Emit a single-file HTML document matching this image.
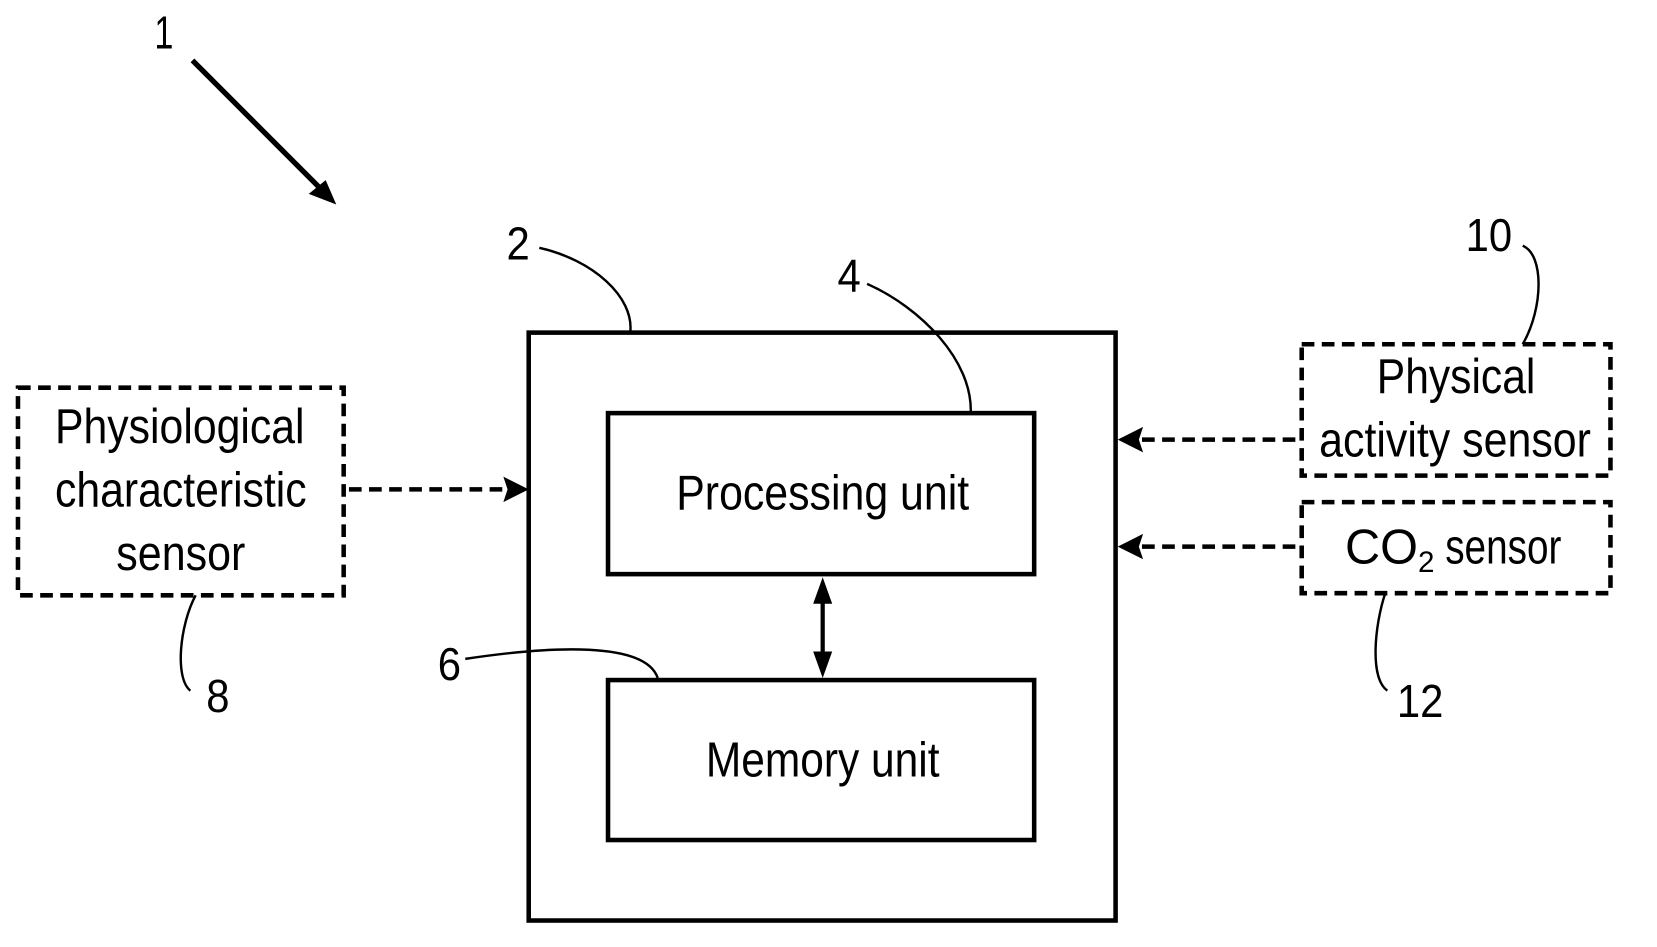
<!DOCTYPE html>
<html><head><meta charset="utf-8"><style>
html,body{margin:0;padding:0;background:#fff;}
svg{display:block;}
text{font-family:"Liberation Sans",sans-serif;fill:#000;}
</style></head><body>
<svg width="1657" height="947" viewBox="0 0 1567 894" preserveAspectRatio="none" xmlns="http://www.w3.org/2000/svg">
<g font-size="44" text-anchor="middle">
<text x="155" y="46" textLength="18" lengthAdjust="spacingAndGlyphs">1</text>
<text x="490" y="245" textLength="22" lengthAdjust="spacingAndGlyphs">2</text>
<text x="803" y="275" textLength="22" lengthAdjust="spacingAndGlyphs">4</text>
<text x="425" y="642" textLength="22" lengthAdjust="spacingAndGlyphs">6</text>
<text x="206" y="672" textLength="22" lengthAdjust="spacingAndGlyphs">8</text>
<text x="1408" y="237" textLength="44" lengthAdjust="spacingAndGlyphs">10</text>
<text x="1343" y="677" textLength="44" lengthAdjust="spacingAndGlyphs">12</text>
</g>
<g fill="none" stroke="#000" stroke-width="2.3">
<path d="M510,234 C560,245 600,280 596,314"/>
<path d="M820,268 C870,290 920,340 918,390"/>
<path d="M440,622 C520,610 610,605 622,640"/>
<path d="M185,562 C170,590 165,640 180,652"/>
<path d="M1440,232 C1460,240 1460,290 1440,325"/>
<path d="M1310,560 C1300,590 1295,640 1312,652"/>
</g>
<line x1="182" y1="57" x2="305" y2="180" stroke="#000" stroke-width="5"/>
<polygon points="318,193 292,183 308,170" fill="#000"/>
<g fill="none" stroke="#000" stroke-width="4.3">
<rect x="500" y="314" width="555" height="555"/>
<rect x="575" y="390" width="403" height="152"/>
<rect x="575" y="642" width="403" height="151"/>
</g>
<line x1="778" y1="560" x2="778" y2="625" stroke="#000" stroke-width="4"/>
<polygon points="778,545 769,570 787,570" fill="#000"/>
<polygon points="778,640 769,615 787,615" fill="#000"/>
<g fill="none" stroke="#000" stroke-width="4.3" stroke-dasharray="12,7">
<rect x="17" y="366" width="308" height="196"/>
<rect x="1231" y="325" width="292" height="124"/>
<rect x="1231" y="474" width="292" height="86"/>
<line x1="330" y1="462" x2="480" y2="462"/>
<line x1="1225" y1="415" x2="1078" y2="415"/>
<line x1="1225" y1="516" x2="1078" y2="516"/>
</g>
<polygon points="500,462 476,450 480,462 476,474" fill="#000"/>
<polygon points="1057,415 1081,403 1077,415 1081,427" fill="#000"/>
<polygon points="1057,516 1081,504 1077,516 1081,528" fill="#000"/>
<g font-size="46" text-anchor="middle">
<text x="778" y="481" textLength="277" lengthAdjust="spacingAndGlyphs">Processing unit</text>
<text x="778" y="733" textLength="221" lengthAdjust="spacingAndGlyphs">Memory unit</text>
<text x="170" y="418" textLength="236" lengthAdjust="spacingAndGlyphs">Physiological</text>
<text x="171" y="478" textLength="238" lengthAdjust="spacingAndGlyphs">characteristic</text>
<text x="171" y="538" textLength="122" lengthAdjust="spacingAndGlyphs">sensor</text>
<text x="1377" y="371" textLength="150" lengthAdjust="spacingAndGlyphs">Physical</text>
<text x="1376" y="431" textLength="257" lengthAdjust="spacingAndGlyphs">activity sensor</text>
<text x="1272" y="532" text-anchor="start">CO<tspan font-size="28" dy="8">2</tspan><tspan dy="-8" textLength="120" lengthAdjust="spacingAndGlyphs"> sensor</tspan></text>
</g>
</svg>
</body></html>
